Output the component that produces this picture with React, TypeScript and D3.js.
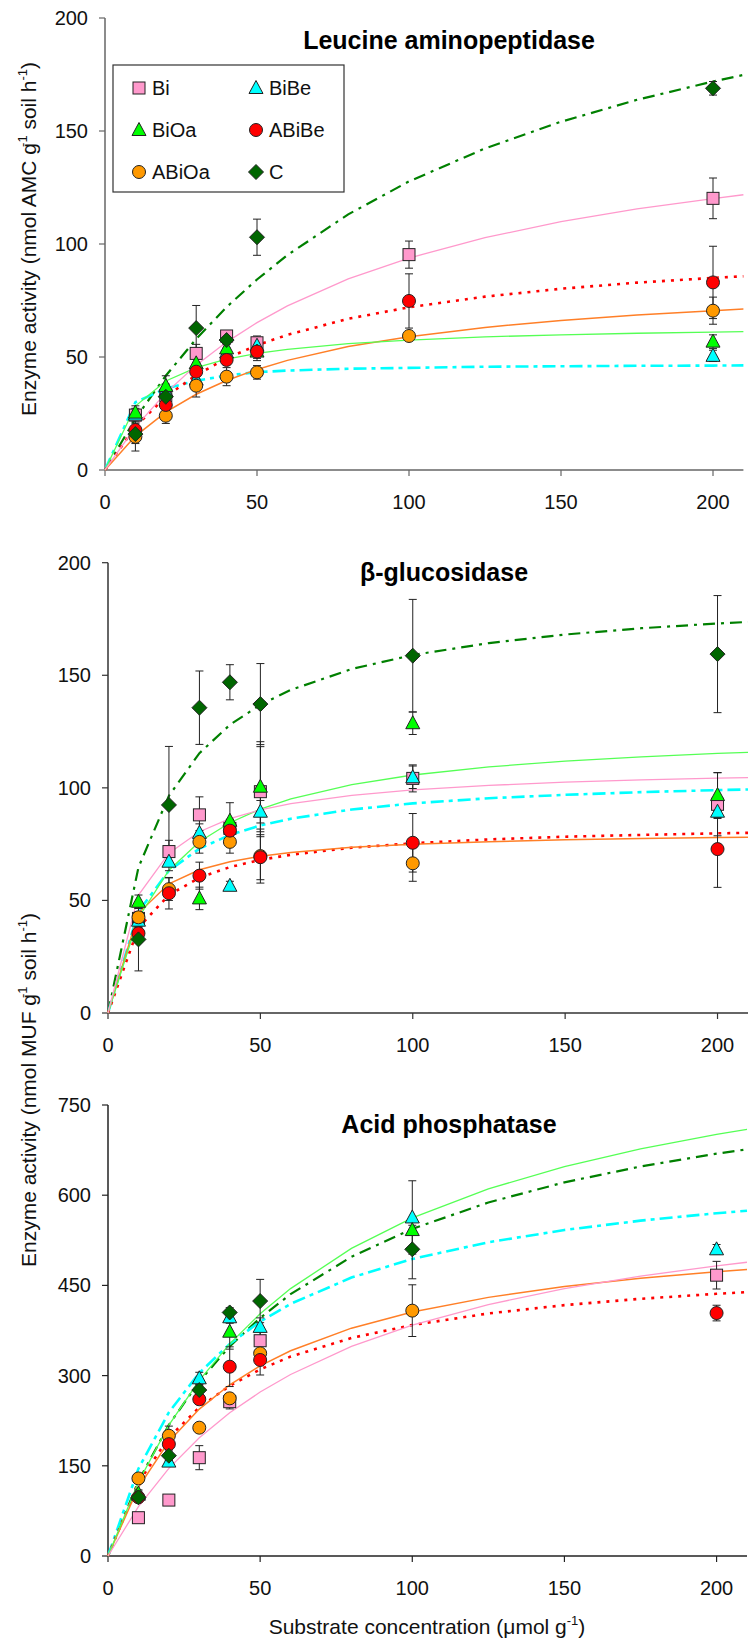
import React from "react";
import * as d3 from "d3";

// ---------- data ----------
const seriesNames = ["Bi", "BiBe", "BiOa", "ABiBe", "ABiOa", "C"];
const substrateObs = [10, 20, 30, 40, 50, 100, 200];
const substrateFit = [0, 10, 20, 30, 40, 50, 60, 80, 100, 125, 150, 175, 200, 210];

// Leucine aminopeptidase (order: Bi, BiBe, BiOa, ABiBe, ABiOa, C)
const lapObs = [
  [24.3, 33, 51.6, 59.3, 56.3, 95.3, 120.2],
  [24.5, 35, 40, 52, 55, null, 50.5],
  [25.4, 37.2, 47.2, 53.8, 52.4, null, 56.8],
  [17.7, 28.8, 43.5, 48.7, 52.4, 74.8, 83],
  [14.7, 24, 37.3, 41.3, 43.2, 59.3, 70.5],
  [15.9, 32.4, 62.8, 57.5, 103, null, 168.9],
];
const lapErr = [
  [3, 2, 4, 2, 3, 6, 9],
  [2, 3, 3, 2, 3, 0, 2.5],
  [3, 4.5, 3, 3, 4, 0, 3],
  [3, 3, 3, 2, 3, 12, 16],
  [3, 3.4, 5, 4, 3, 2, 6],
  [7.5, 4, 10, 2, 8, 0, 3],
];
const lapFit = [
  [0, 19.0, 34.1, 46.4, 56.6, 65.2, 72.6, 84.6, 93.8, 102.8, 109.9, 115.5, 120.1, 121.8],
  [0, 30, 36, 39.5, 41.8, 43.3, 44.0, 44.8, 45.2, 45.7, 45.9, 46.1, 46.2, 46.3],
  [0, 28.3, 39.4, 45.3, 49.1, 51.6, 53.4, 55.9, 57.5, 58.9, 59.8, 60.5, 61.0, 61.2],
  [0, 19.2, 32.4, 42.0, 49.4, 55.2, 59.8, 66.9, 72.0, 76.7, 80.2, 82.9, 85.0, 85.7],
  [0, 15.0, 25.6, 33.5, 39.6, 44.5, 48.5, 54.6, 59.0, 63.1, 66.2, 68.6, 70.5, 71.2],
  [0, 22.7, 41.7, 58.0, 72.1, 84.3, 95.1, 113.1, 127.7, 142.3, 154.1, 163.8, 171.9, 174.8],
];

// beta-glucosidase
const bgObs = [
  [42, 71.7, 88, 82, 98.3, 104.2, 92.7],
  [41, 67.2, 80, 56.5, 89.4, 104.7, 89.4],
  [49.4, null, 50.9, 85.4, 100.5, 128.7, 96.8],
  [35.4, 53.2, 61, 81, 69.2, 75.6, 72.8],
  [42.5, 55, 76, 76, 69.7, 66.5, null],
  [32.7, 92.4, 135.6, 146.9, 137.2, 158.7, 159.4],
];
const bgErr = [
  [3, 5, 8, 4, 20, 6, 14],
  [3, 4, 4, 2, 5, 5, 3],
  [3, 0, 5, 8, 20, 5, 10],
  [4, 7, 6, 5, 10, 13, 17],
  [4, 5, 5, 5, 12, 8, 0],
  [14, 26, 16.3, 7.8, 18, 25, 26],
];
const bgFit = [
  [0, 52.4, 71.0, 80.5, 86.3, 90.2, 93.0, 96.7, 99.1, 101.1, 102.5, 103.5, 104.3, 104.5],
  [0, 45.1, 63.2, 73.0, 79.1, 83.3, 86.3, 90.4, 93.1, 95.4, 96.9, 98.1, 99.0, 99.3],
  [0, 42.3, 63.4, 76.1, 84.5, 90.6, 95.1, 101.4, 105.7, 109.3, 111.9, 113.8, 115.3, 115.8],
  [0, 38.0, 52.4, 60.1, 64.8, 68.0, 70.3, 73.4, 75.4, 77.1, 78.3, 79.1, 79.8, 80.0],
  [0, 44.4, 57.4, 63.6, 67.2, 69.6, 71.3, 73.6, 75.0, 76.1, 76.9, 77.5, 78.0, 78.1],
  [0, 64.7, 96.5, 115.4, 128.0, 136.9, 143.5, 152.8, 159.0, 164.3, 168.1, 170.9, 173.0, 173.7],
];

// Acid phosphatase
const apObs = [
  [63.7, 93, 163.5, 256.6, 358, null, 467],
  [102, 157, 295.5, 397, 381, 563, 510],
  [104, null, null, 373, null, 542, null],
  [97.6, 186, 260.6, 314.8, 326, null, 404],
  [129, 200, 213.4, 262.2, 337, 408, null],
  [97.6, 166.8, 276, 405, 424, 510, null],
];
const apErr = [
  [5, 5, 20, 12, 15, 0, 23],
  [6, 8, 10, 10, 15, 61, 8],
  [6, 0, 0, 29, 0, 8, 0],
  [5, 8, 8, 33, 25, 0, 13],
  [5, 16, 8, 8, 8, 43, 0],
  [6, 8, 8, 8, 36, 49, 0],
];
const apFit = [
  [0, 82.2, 145.8, 196.7, 238.2, 272.7, 301.9, 348.5, 384.0, 418.2, 444.5, 465.5, 482.5, 488.5],
  [0, 145.2, 238.9, 304.4, 352.7, 389.9, 419.3, 463.0, 493.9, 521.8, 542.1, 557.7, 570.0, 574.2],
  [0, 123.1, 217.5, 292.2, 352.7, 402.7, 444.7, 511.5, 562.2, 610.6, 647.7, 677.2, 701.1, 709.4],
  [0, 122.3, 196.9, 247.1, 283.1, 310.3, 331.6, 362.6, 384.1, 403.3, 417.2, 427.7, 436.0, 438.8],
  [0, 114.3, 190.3, 244.3, 284.8, 316.2, 341.3, 378.9, 405.7, 430.1, 448.0, 461.8, 472.7, 476.4],
  [0, 124.6, 218.0, 290.5, 348.5, 395.9, 435.4, 497.5, 544.0, 587.9, 621.4, 647.7, 669.0, 676.4],
];

const xTicks = [0, 50, 100, 150, 200];
const yTicks200 = [0, 50, 100, 150, 200];
const yTicks750 = [0, 150, 300, 450, 600, 750];

// ---------- styles ----------
const FONT = "'Liberation Sans', Arial, sans-serif";
const shapes = ["square", "triangle", "triangle", "circle", "circle", "diamond"];
const fills = ["#FF99CC", "#00FFFF", "#00FF00", "#FF0000", "#FF9900", "#006600"];
const lineColors = ["#FF99CC", "#00FFFF", "#55FF55", "#FF0000", "#FF7F27", "#008000"];
const lineWidths = [1.3, 2.6, 1.3, 2.6, 1.5, 2.2];
const lineDash = [undefined, "13,5,4,5", undefined, "3,6", undefined, "12,6,3,6"];
const lineOrder = [5, 1, 3, 4, 2, 0];
const markerOrder = [0, 1, 2, 4, 3, 5];

function Marker({ shape, x, y, fill }: { shape: string; x: number; y: number; fill: string }) {
  const st = { fill, stroke: "#222", strokeWidth: 1 };
  if (shape === "square") return <rect x={x - 6} y={y - 6} width={12} height={12} {...st} />;
  if (shape === "triangle")
    return <path d={`M${x},${y - 7.5}L${x + 7},${y + 5.5}L${x - 7},${y + 5.5}Z`} {...st} />;
  if (shape === "circle") return <circle cx={x} cy={y} r={6.5} {...st} />;
  return <path d={`M${x},${y - 7.5}L${x + 7.5},${y}L${x},${y + 7.5}L${x - 7.5},${y}Z`} {...st} />;
}

type PanelProps = {
  title: string;
  titleX: number;
  titleY: number;
  xr: [number, number];
  yr: [number, number];
  yMax: number;
  yTicks: number[];
  obs: (number | null)[][];
  err: number[][];
  fit: number[][];
  axisColor: string;
};

function Panel({ title, titleX, titleY, xr, yr, yMax, yTicks, obs, err, fit, axisColor }: PanelProps) {
  const x = d3.scaleLinear().domain([0, 210]).range(xr);
  const y = d3.scaleLinear().domain([0, yMax]).range(yr);
  const line = d3
    .line<number>()
    .x((_, i) => x(substrateFit[i]))
    .y((d) => y(d))
    .curve(d3.curveLinear);
  return (
    <g>
      <line x1={x(0)} x2={x(210)} y1={y(0)} y2={y(0)} stroke={axisColor} strokeWidth={1.5} />
      <line x1={x(0)} x2={x(0)} y1={y(0)} y2={y(yMax)} stroke={axisColor} strokeWidth={1.5} />
      {xTicks.map((t) => (
        <g key={"xt" + t}>
          <line x1={x(t)} x2={x(t)} y1={y(0)} y2={y(0) + 6} stroke={axisColor} strokeWidth={1.2} />
          <text x={x(t)} y={y(0) + 39} textAnchor="middle" fontSize={20} fontFamily={FONT} fill="#111">
            {t}
          </text>
        </g>
      ))}
      {yTicks.map((t) => (
        <g key={"yt" + t}>
          <line x1={x(0) - 6} x2={x(0)} y1={y(t)} y2={y(t)} stroke={axisColor} strokeWidth={1.2} />
          <text x={x(0) - 17} y={y(t) + 7} textAnchor="end" fontSize={20} fontFamily={FONT} fill="#111">
            {t}
          </text>
        </g>
      ))}
      {lineOrder.map((s) => (
        <path
          key={"fit" + s}
          d={line(fit[s]) || ""}
          fill="none"
          stroke={lineColors[s]}
          strokeWidth={lineWidths[s]}
          strokeDasharray={lineDash[s]}
        />
      ))}
      {markerOrder.map((s) =>
        obs[s].map((v, i) => {
          const e = err[s][i];
          if (v === null || !e) return null;
          const cx = x(substrateObs[i]);
          return (
            <g key={"eb" + s + "-" + i} stroke="#222" strokeWidth={1}>
              <line x1={cx} x2={cx} y1={y(v - e)} y2={y(v + e)} />
              <line x1={cx - 4} x2={cx + 4} y1={y(v - e)} y2={y(v - e)} />
              <line x1={cx - 4} x2={cx + 4} y1={y(v + e)} y2={y(v + e)} />
            </g>
          );
        })
      )}
      {markerOrder.map((s) =>
        obs[s].map((v, i) =>
          v === null ? null : (
            <Marker key={"m" + s + "-" + i} shape={shapes[s]} x={x(substrateObs[i])} y={y(v)} fill={fills[s]} />
          )
        )
      )}
      <text x={titleX} y={titleY} textAnchor="middle" fontSize={25} fontWeight="bold" fontFamily={FONT} fill="#000">
        {title}
      </text>
    </g>
  );
}

function Legend() {
  const cols = [139, 256];
  const rows = [88, 130, 172];
  return (
    <g>
      <rect x={113} y={65} width={231} height={127} fill="#fff" stroke="#333" strokeWidth={1.2} />
      {seriesNames.map((name, i) => {
        const cx = cols[i % 2];
        const cy = rows[Math.floor(i / 2)];
        return (
          <g key={name}>
            <Marker shape={shapes[i]} x={cx} y={cy} fill={fills[i]} />
            <text x={cx + 13} y={cy + 7} fontSize={20} fontFamily={FONT} fill="#111">
              {name}
            </text>
          </g>
        );
      })}
    </g>
  );
}

export default function App() {
  return (
    <svg
      width={748}
      height={1640}
      viewBox="0 0 748 1640"
      style={{ position: "absolute", left: 0, top: 0, background: "#fff" }}
    >
      <rect x={0} y={0} width={748} height={1640} fill="#fff" />
      <Panel
        title="Leucine aminopeptidase"
        titleX={449}
        titleY={49}
        xr={[105, 743.4]}
        yr={[470, 18]}
        yMax={200}
        yTicks={yTicks200}
        obs={lapObs}
        err={lapErr}
        fit={lapFit}
        axisColor="#666"
      />
      <Legend />
      <Panel
        title="β-glucosidase"
        titleX={444}
        titleY={581}
        xr={[108, 748]}
        yr={[1013, 562.7]}
        yMax={200}
        yTicks={yTicks200}
        obs={bgObs}
        err={bgErr}
        fit={bgFit}
        axisColor="#333"
      />
      <Panel
        title="Acid phosphatase"
        titleX={449}
        titleY={1133}
        xr={[108, 747]}
        yr={[1556, 1105]}
        yMax={750}
        yTicks={yTicks750}
        obs={apObs}
        err={apErr}
        fit={apFit}
        axisColor="#222"
      />
      <text transform="translate(36,239) rotate(-90)" textAnchor="middle" fontSize={21} fontFamily={FONT} fill="#111">
        Enzyme activity (nmol AMC g
        <tspan dx={-4} dy={-9} fontSize={13}>-1</tspan>
        <tspan dy={9}> soil h</tspan>
        <tspan dy={-9} fontSize={13}>-1</tspan>
        <tspan dy={9}>)</tspan>
      </text>
      <text transform="translate(36,1090) rotate(-90)" textAnchor="middle" fontSize={21} fontFamily={FONT} fill="#111">
        Enzyme activity (nmol MUF g
        <tspan dx={-4} dy={-9} fontSize={13}>-1</tspan>
        <tspan dy={9}> soil h</tspan>
        <tspan dy={-9} fontSize={13}>-1</tspan>
        <tspan dy={9}>)</tspan>
      </text>
      <text x={427} y={1634} textAnchor="middle" fontSize={21} fontFamily={FONT} fill="#111">
        Substrate concentration (μmol g
        <tspan dy={-9} fontSize={13}>-1</tspan>
        <tspan dy={9}>)</tspan>
      </text>
    </svg>
  );
}
